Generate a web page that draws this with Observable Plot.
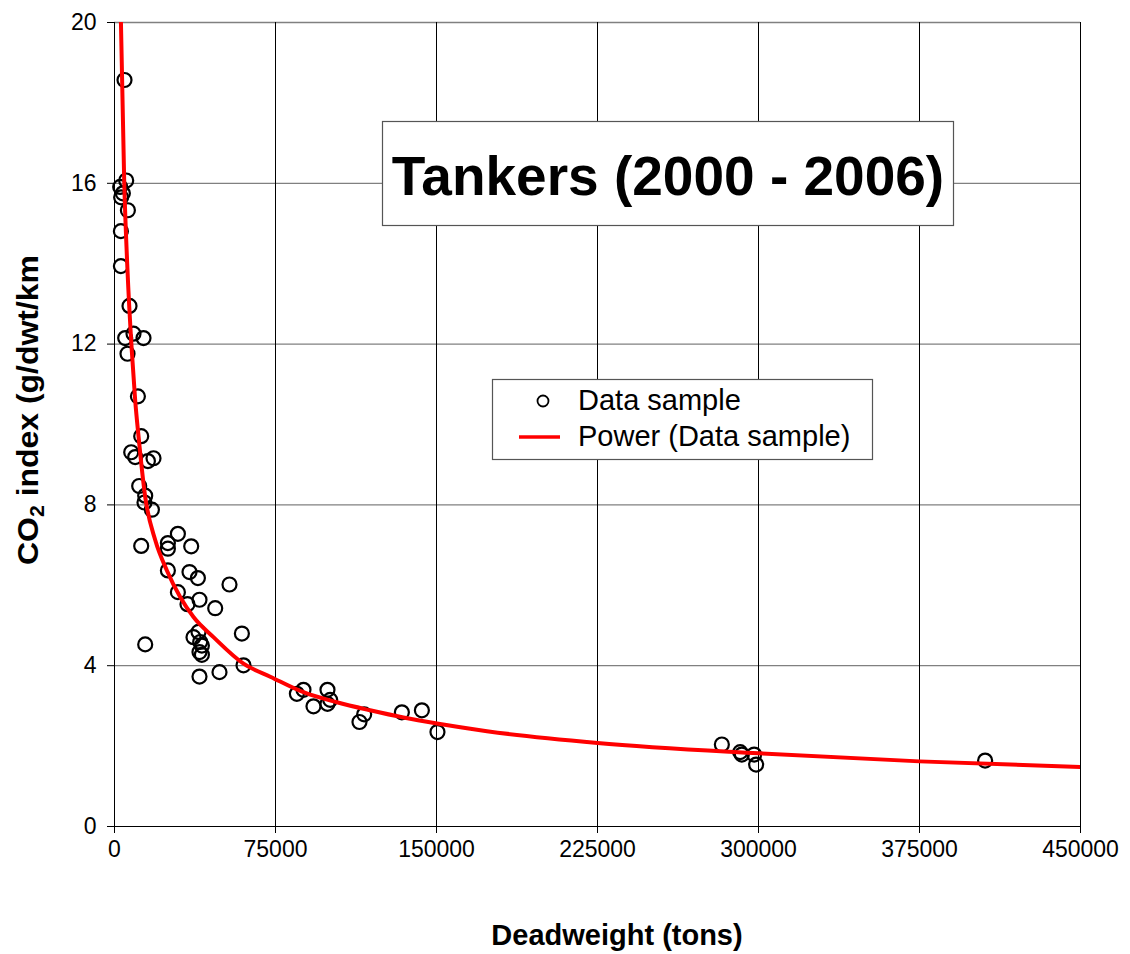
<!DOCTYPE html>
<html>
<head>
<meta charset="utf-8">
<script src="https://cdn.jsdelivr.net/npm/d3@7"></script>
<script src="https://cdn.jsdelivr.net/npm/@observablehq/plot@0.6"></script>
<style>
  html, body { margin: 0; padding: 0; background: #fff; }
  #chart svg { display: block; }
</style>
</head>
<body>
<div id="chart"></div>
<script>
// Tanker sample: deadweight (tons) and CO2 index (g/dwt/km)
const dwt = [
  4660, 5450, 2650, 3900, 3100, 6240, 2980, 2980, 6990, 8850,
  4980, 13510, 6060, 10900, 12440, 7780, 9640, 15560, 18170, 11500,
  14300, 13970, 17420, 29530, 24870, 24870, 12440, 35730, 24870, 34940,
  38850, 53570, 29530, 34000, 39590, 46910, 59340, 14300, 36800, 39130,
  39920, 40710, 39590, 40710, 39590, 48910, 60090, 84960, 88030, 92690,
  99210, 100470, 99210, 114120, 116310, 133870, 143190, 150450, 282930, 291460,
  292250, 297970, 298900, 405570
];
const co2 = [
  18.57, 16.07, 15.91, 15.75, 15.65, 15.33, 14.81, 13.94, 12.95, 12.26,
  12.15, 12.15, 11.76, 10.70, 9.71, 9.31, 9.19, 9.09, 9.16, 8.47,
  8.23, 8.06, 7.88, 7.28, 7.05, 6.91, 6.98, 6.97, 6.37, 6.33,
  6.18, 6.02, 5.83, 5.53, 5.64, 5.43, 4.80, 4.53, 4.71, 4.84,
  4.59, 4.50, 4.34, 4.27, 3.73, 3.84, 4.01, 3.30, 3.40, 2.99,
  3.40, 3.15, 3.05, 2.60, 2.79, 2.84, 2.89, 2.35, 2.04, 1.85,
  1.79, 1.79, 1.54, 1.64
];

// Power trendline of the sample
const trendDwt = [3000, 4500, 6000, 8100, 9640, 11200, 14300, 19000, 24400, 30600, 36800, 46100,
  60100, 72800, 88000, 103600, 119100, 134600, 150200, 173500, 225000, 300000, 375000, 450000];
const trendCo2 = [20, 16.1, 13.9, 11.8, 10.6, 9.7, 8.2, 7.12, 6.37, 5.71, 5.21, 4.71,
  4.05, 3.72, 3.34, 3.09, 2.89, 2.71, 2.56, 2.37, 2.08, 1.82, 1.62, 1.48];

const xTicks = [0, 75000, 150000, 225000, 300000, 375000, 450000];
const yTicks = [0, 4, 8, 12, 16, 20];

const samples = dwt.map((d, i) => ({dwt: d, co2: co2[i]}));
const trend = trendDwt.map((d, i) => ({dwt: d, co2: trendCo2[i]}));

const chart = Plot.plot({
  width: 1130,
  height: 954,
  marginLeft: 114,
  marginRight: 50,
  marginTop: 22,
  marginBottom: 128,
  style: {fontFamily: "'Liberation Sans', Arial, sans-serif", fontSize: "23px", color: "#000", background: "#fff", overflow: "visible"},
  x: {domain: [0, 450000]},
  y: {domain: [0, 20]},
  marks: [
    Plot.ruleY(yTicks.slice(1), {stroke: "#808080", strokeWidth: 1.3}),
    Plot.ruleX(xTicks, {stroke: "#000", strokeWidth: 1}),
    Plot.ruleY([0], {stroke: "#000", strokeWidth: 1.2}),
    Plot.axisX({ticks: xTicks, tickFormat: d => String(d), tickSize: 7, tickPadding: 7, label: null}),
    Plot.axisY({ticks: yTicks, tickFormat: d => String(d), tickSize: 7, tickPadding: 11, label: null}),
    Plot.dot(samples, {x: "dwt", y: "co2", r: 7, stroke: "#000", strokeWidth: 2.2, fill: "none"}),
    Plot.line(trend, {x: "dwt", y: "co2", stroke: "#ff0000", strokeWidth: 4, curve: "monotone-x", clip: true})
  ]
});

document.getElementById("chart").appendChild(chart);

const svg = d3.select(chart);
const font = "'Liberation Sans', Arial, sans-serif";

// Title box
const title = svg.append("g").attr("text-anchor", "middle");
title.append("rect")
  .attr("x", 382.5).attr("y", 121.5).attr("width", 571).attr("height", 104)
  .attr("fill", "#fff").attr("stroke", "#555").attr("stroke-width", 1.2);
title.append("text")
  .attr("x", 668).attr("y", 195)
  .attr("font-family", font).attr("font-weight", "bold").attr("font-size", 55)
  .attr("fill", "#000")
  .text("Tankers (2000 - 2006)");

// Legend
const legend = svg.append("g")
  .attr("font-family", font).attr("font-size", 29).attr("fill", "#000")
  .attr("text-anchor", "start");
legend.append("rect")
  .attr("x", 492.5).attr("y", 379.5).attr("width", 380).attr("height", 80)
  .attr("fill", "#fff").attr("stroke", "#555").attr("stroke-width", 1.2);
legend.append("circle")
  .attr("cx", 543).attr("cy", 401).attr("r", 5.5)
  .attr("fill", "none").attr("stroke", "#000").attr("stroke-width", 1.8);
legend.append("text").attr("x", 578).attr("y", 410).text("Data sample");
legend.append("line")
  .attr("x1", 519).attr("x2", 560).attr("y1", 437).attr("y2", 437)
  .attr("stroke", "#ff0000").attr("stroke-width", 3.5);
legend.append("text").attr("x", 578).attr("y", 446).text("Power (Data sample)");

// Axis titles
svg.append("text")
  .attr("x", 617).attr("y", 945)
  .attr("text-anchor", "middle")
  .attr("font-family", font).attr("font-weight", "bold").attr("font-size", 29)
  .attr("fill", "#000")
  .text("Deadweight (tons)");

const yTitle = svg.append("text")
  .attr("transform", "translate(38,410) rotate(-90)")
  .attr("text-anchor", "middle")
  .attr("font-family", font).attr("font-weight", "bold").attr("font-size", 30)
  .attr("fill", "#000")
  .attr("textLength", 310).attr("lengthAdjust", "spacingAndGlyphs");
yTitle.append("tspan").text("CO");
yTitle.append("tspan").attr("font-size", 20).attr("dy", 6).text("2");
yTitle.append("tspan").attr("dy", -6).text(" index (g/dwt/km");
</script>
</body>
</html>
